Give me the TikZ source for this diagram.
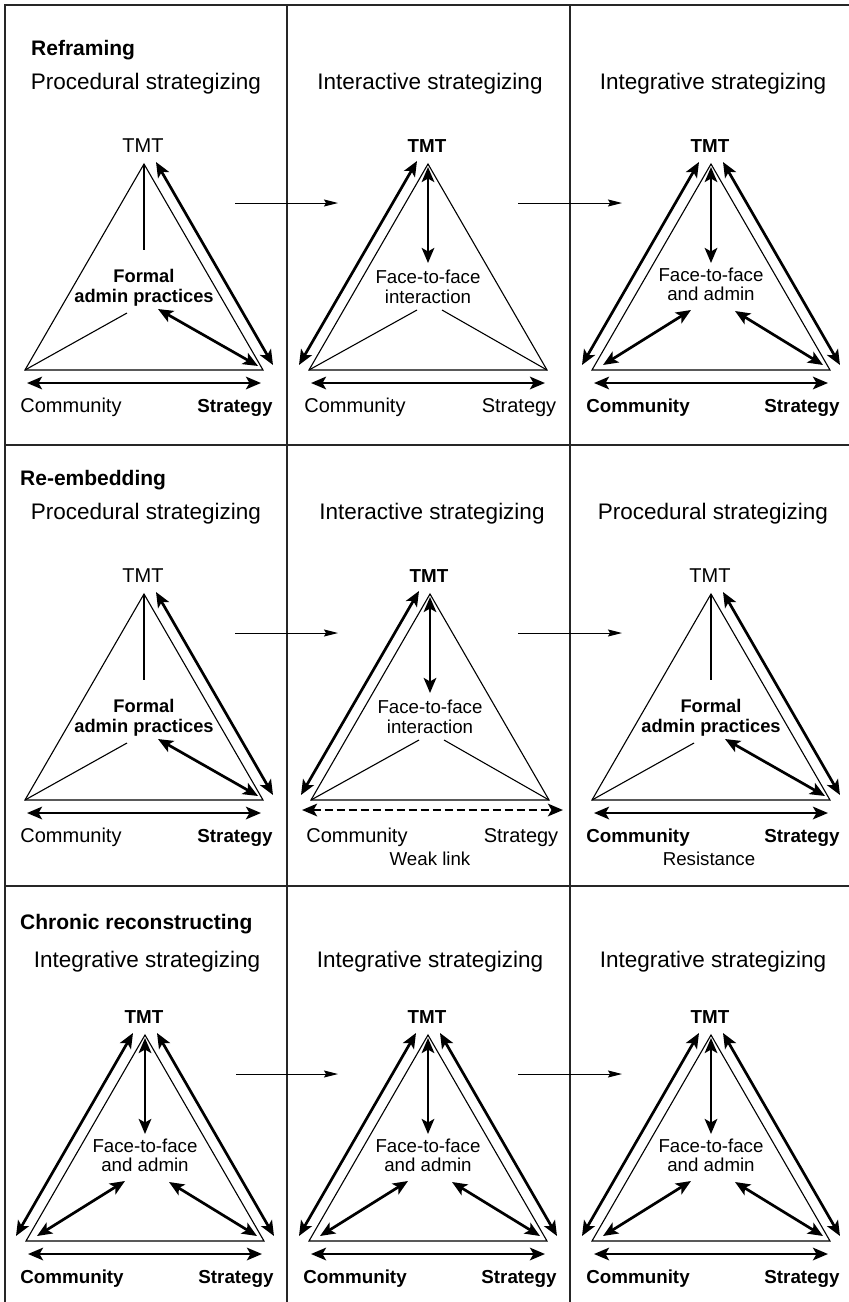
\documentclass[tikz,border=0pt]{standalone}
\usepackage{fontspec}
\setmainfont{Liberation Sans}
\usetikzlibrary{arrows.meta}

\tikzset{
  edge/.style={line width=1.1pt, line join=miter},
  frame/.style={line width=1.3pt, draw=black!85},
  dbl/.style={line width=2.7pt,
    {Stealth[length=15pt,width=12.5pt,inset=3.5pt]}-{Stealth[length=15pt,width=12.5pt,inset=3.5pt]}},
  weak/.style={dbl, dash pattern=on 8pt off 4pt},
  flow/.style={line width=1pt, -{Stealth[length=14pt,width=7pt,inset=2pt]}},
  heading/.style={anchor=base west, inner sep=0pt, font=\fontsize{21}{25}\selectfont\bfseries},
  mode/.style={anchor=base, inner sep=0pt, font=\fontsize{22.5}{27}\selectfont},
  vlab/.style={anchor=base, inner sep=0pt, font=\fontsize{20}{24}\selectfont},
  vbold/.style={anchor=base, inner sep=0pt, font=\fontsize{18.8}{22}\selectfont\bfseries},
  clab/.style={anchor=base, inner sep=0pt, font=\fontsize{18.7}{22}\selectfont},
  cbold/.style={anchor=base, inner sep=0pt, font=\fontsize{18.3}{22}\selectfont\bfseries},
}

\def\modey{-75}

% triangle, mode title, vertex labels and bottom anchors (inside a shifted scope)
\newcommand{\panelbase}[5]{%
  \coordinate (#1-top) at (0,0);
  \coordinate (#1-bl) at (-119,206);
  \coordinate (#1-br) at (119,206);
  \draw[edge] (#1-top) -- (#1-bl) -- (#1-br) -- cycle;
  \node[mode] (#1-mode) at (2,\modey) {#2};
  \node[#3] (#1-tmt) at (-1,-12) {TMT};
  \node[#4] (#1-com) at (-73,248) {Community};
  \node[#5] (#1-str) at (91,248) {Strategy};
  \coordinate (#1-ba) at (-117,219);
  \coordinate (#1-bb) at (117,219);
}

% procedural strategizing panel
\newcommand{\procpanel}[7]{%
  \begin{scope}[shift={(#2,#3)}]
    \panelbase{#1}{#4}{#5}{#6}{#7}
    \node[cbold] (#1-c1) at (0,118) {Formal};
    \node[cbold] (#1-c2) at (0,138) {admin practices};
    \coordinate (#1-v) at (0,86);
    \coordinate (#1-l) at (-17,149);
    \coordinate (#1-r) at (14,145);
    \coordinate (#1-rr) at (114,202);
    \coordinate (#1-o1) at (12,-2);
    \coordinate (#1-o2) at (129,201);
    \draw[edge] (#1-top) -- (#1-v);
    \draw[edge] (#1-bl) -- (#1-l);
    \draw[dbl] (#1-r) -- (#1-rr);
    \draw[dbl] (#1-o1) -- (#1-o2);
    \draw[dbl] (#1-ba) -- (#1-bb);
  \end{scope}}

% interactive strategizing panel (bottom link drawn separately)
\newcommand{\interpanel}[7]{%
  \begin{scope}[shift={(#2,#3)}]
    \panelbase{#1}{#4}{#5}{#6}{#7}
    \node[clab] (#1-c1) at (0,119) {Face-to-face};
    \node[clab] (#1-c2) at (0,139) {interaction};
    \coordinate (#1-v1) at (0,3);
    \coordinate (#1-v2) at (0,99);
    \coordinate (#1-l) at (-11,146);
    \coordinate (#1-r) at (14,146);
    \coordinate (#1-o1) at (-11,-3);
    \coordinate (#1-o2) at (-129,201);
    \coordinate (#1-wa) at (-128,216);
    \coordinate (#1-wb) at (133,216);
    \draw[dbl] (#1-v1) -- (#1-v2);
    \draw[edge] (#1-l) -- (#1-bl);
    \draw[edge] (#1-r) -- (#1-br);
    \draw[dbl] (#1-o1) -- (#1-o2);
  \end{scope}}

% integrative strategizing panel
\newcommand{\integpanel}[7]{%
  \begin{scope}[shift={(#2,#3)}]
    \panelbase{#1}{#4}{#5}{#6}{#7}
    \node[clab] (#1-c1) at (0,117) {Face-to-face};
    \node[clab] (#1-c2) at (0,136) {and admin};
    \coordinate (#1-v1) at (0,3);
    \coordinate (#1-v2) at (0,99);
    \coordinate (#1-il1) at (-20,146);
    \coordinate (#1-il2) at (-108,201);
    \coordinate (#1-ir1) at (24,147);
    \coordinate (#1-ir2) at (112,201);
    \coordinate (#1-ol1) at (-12,-2);
    \coordinate (#1-ol2) at (-129,201);
    \coordinate (#1-or1) at (12,-2);
    \coordinate (#1-or2) at (129,201);
    \draw[dbl] (#1-v1) -- (#1-v2);
    \draw[dbl] (#1-il1) -- (#1-il2);
    \draw[dbl] (#1-ir1) -- (#1-ir2);
    \draw[dbl] (#1-ol1) -- (#1-ol2);
    \draw[dbl] (#1-or1) -- (#1-or2);
    \draw[dbl] (#1-ba) -- (#1-bb);
  \end{scope}}

\begin{document}
\begin{tikzpicture}[x=1pt,y=-1pt]
  \useasboundingbox (0,0) rectangle (849,1302);

  % grid of the three episodes
  \coordinate (g-tl) at (5,5);
  \coordinate (g-tr) at (849,5);
  \coordinate (g-bl) at (5,1302);
  \coordinate (g-c1t) at (287,5);
  \coordinate (g-c1b) at (287,1302);
  \coordinate (g-c2t) at (570,5);
  \coordinate (g-c2b) at (570,1302);
  \coordinate (g-r1l) at (5,445);
  \coordinate (g-r1r) at (849,445);
  \coordinate (g-r2l) at (5,886);
  \coordinate (g-r2r) at (849,886);
  \draw[frame] (g-tr) -- (g-tl) -- (g-bl);
  \draw[frame] (g-c1t) -- (g-c1b);
  \draw[frame] (g-c2t) -- (g-c2b);
  \draw[frame] (g-r1l) -- (g-r1r);
  \draw[frame] (g-r2l) -- (g-r2r);

  % Reframing
  \node[heading] (h1) at (31,55) {Reframing};
  \procpanel{a1}{144}{164}{Procedural strategizing}{vlab}{vlab}{vbold}
  \interpanel{a2}{428}{164}{Interactive strategizing}{vbold}{vlab}{vlab}
  \draw[dbl] (a2-ba) -- (a2-bb);
  \integpanel{a3}{711}{164}{Integrative strategizing}{vbold}{vbold}{vbold}
  \coordinate (a12s) at (235,203); \coordinate (a12e) at (338,203);
  \coordinate (a23s) at (518,203); \coordinate (a23e) at (622,203);
  \draw[flow] (a12s) -- (a12e);
  \draw[flow] (a23s) -- (a23e);

  % Re-embedding
  \node[heading] (h2) at (20,485) {Re-embedding};
  \procpanel{b1}{144}{594}{Procedural strategizing}{vlab}{vlab}{vbold}
  \interpanel{b2}{430}{594}{Interactive strategizing}{vbold}{vlab}{vlab}
  \draw[weak] (b2-wa) -- (b2-wb);
  \procpanel{b3}{711}{594}{Procedural strategizing}{vlab}{vbold}{vbold}
  \node[clab] (weak) at (430,865) {Weak link};
  \node[clab] (resist) at (709,865) {Resistance};
  \coordinate (b12s) at (235,633); \coordinate (b12e) at (338,633);
  \coordinate (b23s) at (518,633); \coordinate (b23e) at (622,633);
  \draw[flow] (b12s) -- (b12e);
  \draw[flow] (b23s) -- (b23e);

  % Chronic reconstructing
  \def\modey{-68}
  \node[heading] (h3) at (20,929) {Chronic reconstructing};
  \integpanel{c1}{145}{1035}{Integrative strategizing}{vbold}{vbold}{vbold}
  \integpanel{c2}{428}{1035}{Integrative strategizing}{vbold}{vbold}{vbold}
  \integpanel{c3}{711}{1035}{Integrative strategizing}{vbold}{vbold}{vbold}
  \coordinate (c12s) at (236,1074); \coordinate (c12e) at (338,1074);
  \coordinate (c23s) at (518,1074); \coordinate (c23e) at (622,1074);
  \draw[flow] (c12s) -- (c12e);
  \draw[flow] (c23s) -- (c23e);
\end{tikzpicture}
\end{document}
